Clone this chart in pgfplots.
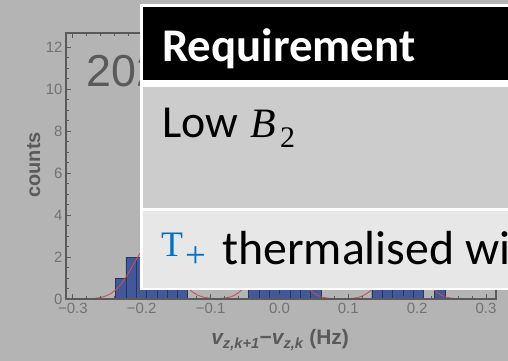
\documentclass[border=0pt]{standalone}
\usepackage{pgfplots}
\pgfplotsset{compat=1.18}
\usepackage{fontspec}
\setmainfont{Liberation Sans}
\newfontfamily\calibri{Carlito}
\newfontfamily\serif{Liberation Serif}
\definecolor{bgc}{HTML}{B4B4B4}
\definecolor{framec}{HTML}{5A5A5A}
\definecolor{tickc}{HTML}{727272}
\definecolor{barc}{HTML}{42589A}
\definecolor{fitc}{HTML}{C8504F}
\definecolor{rowa}{HTML}{CCCCCC}
\definecolor{rowb}{HTML}{E7E7E7}
\definecolor{tblue}{HTML}{0070C0}
\begin{document}
\begin{tikzpicture}
\useasboundingbox (0bp,0bp) rectangle (508bp,361bp);
\clip (0bp,0bp) rectangle (508bp,361bp);
\fill[bgc] (0bp,0bp) rectangle (508bp,361bp);
\node[anchor=base west, inner sep=0pt, text=framec, font=\fontsize{45}{50}\selectfont] at (86bp,274bp) {2022};
\begin{axis}[at={(66bp,62bp)}, anchor=south west, scale only axis,
  width=430bp, height=266bp,
  xmin=-0.31, xmax=0.3145, ymin=0, ymax=12.67,
  axis line style={framec, line width=1.5bp},
  xtick={-0.3,-0.2,-0.1,0,0.1,0.2,0.3},
  xticklabels={−0.3,−0.2,−0.1,0.0,0.1,0.2,0.3},
  ytick={0,2,4,6,8,10,12},
  minor x tick num=4, minor y tick num=3,
  tick style={framec, line width=0.8bp},
  major tick length=5bp, minor tick length=3bp,
  tick align=inside,
  ticklabel style={font=\fontsize{15}{17}\selectfont, text=tickc},
  xticklabel style={yshift=-1bp},
  /pgf/number format/assume math mode=true,
  axis on top,
  xlabel={{\bfseries\itshape v}\textsubscript{\bfseries\itshape z,k+1}{\bfseries −}{\bfseries\itshape v}\textsubscript{\bfseries\itshape z,k}{\bfseries\ (Hz)}},
  ylabel={\bfseries counts},
  every axis x label/.style={at={(rel axis cs:0.498,-0.154)}, anchor=center, text=framec, font=\fontsize{21}{23}\selectfont},
  every axis y label/.style={at={(rel axis cs:-0.075,0.504)}, anchor=center, rotate=90, text=framec, font=\fontsize{20}{22}\selectfont},
]
\addplot[ybar interval, fill=barc, draw=barc!60!black, line width=0.4bp] coordinates {
(-0.238,1) (-0.223,2) (-0.208,2) (-0.193,3) (-0.178,2) (-0.163,2) (-0.148,1) (-0.134,0)};
\addplot[ybar interval, fill=barc, draw=barc!60!black, line width=0.4bp] coordinates {
(-0.045,1) (-0.03,2) (-0.015,3) (0.0,4) (0.015,3) (0.03,2) (0.045,1) (0.06,0)};
\addplot[ybar interval, fill=barc, draw=barc!60!black, line width=0.4bp] coordinates {
(0.134,1) (0.149,2) (0.164,3) (0.179,2) (0.194,1) (0.209,0)};
\addplot[ybar interval, fill=barc, draw=barc!60!black, line width=0.4bp] coordinates {
(0.225,1) (0.24,0)};
\addplot[fitc, line width=0.9bp, smooth, mark=none] coordinates {
(-0.31,0) (-0.29,0.002) (-0.27,0.026) (-0.26,0.072) (-0.25,0.174) (-0.24,0.376)
(-0.23,0.713) (-0.22,1.195) (-0.21,1.765) (-0.20,2.30) (-0.19,2.64) (-0.18,2.67)
(-0.17,2.39) (-0.16,1.88) (-0.15,1.30) (-0.14,0.80) (-0.13,0.43) (-0.12,0.205)
(-0.11,0.087) (-0.10,0.035) (-0.09,0.021) (-0.08,0.04) (-0.07,0.112) (-0.06,0.285)
(-0.05,0.62) (-0.04,1.16) (-0.03,1.85) (-0.02,2.52) (-0.01,2.94) (0.00,2.94)
(0.01,2.52) (0.02,1.85) (0.03,1.16) (0.04,0.62) (0.05,0.285) (0.06,0.112)
(0.07,0.04) (0.08,0.012) (0.09,0.006) (0.10,0.014) (0.11,0.047) (0.12,0.137)
(0.13,0.338) (0.14,0.70) (0.15,1.24) (0.16,1.85) (0.17,2.34) (0.18,2.50)
(0.19,2.26) (0.20,1.73) (0.21,1.12) (0.22,0.62) (0.23,0.286) (0.24,0.113)
(0.25,0.037) (0.26,0.011) (0.27,0.003) (0.28,0) (0.3145,0)};
\end{axis}
% overlay table
\fill[white] (140bp,71bp) rectangle (520bp,357bp);
\fill[black] (143bp,281bp) rectangle (520bp,354bp);
\fill[rowa] (143bp,153bp) rectangle (520bp,274bp);
\fill[rowb] (143bp,73bp) rectangle (520bp,150bp);
\node[anchor=base west, inner sep=0pt, text=white, font=\calibri\bfseries\fontsize{47}{50}\selectfont] at (162bp,299bp) {Requirement};
\node[anchor=base west, inner sep=0pt, font=\calibri\fontsize{46}{50}\selectfont] at (162bp,223bp) {Low};
\node[anchor=base west, inner sep=0pt, font=\serif\itshape\fontsize{42}{46}\selectfont] at (250bp,223bp) {B};
\node[anchor=base west, inner sep=0pt, font=\serif\fontsize{30}{32}\selectfont] at (280bp,213bp) {2};
\node[anchor=base west, inner sep=0pt, text=tblue, font=\serif\fontsize{36}{40}\selectfont] at (161bp,104bp) {T};
\node[anchor=base west, inner sep=0pt, text=tblue, font=\serif\fontsize{37}{40}\selectfont] at (185bp,93bp) {+};
\node[anchor=base west, inner sep=0pt, font=\calibri\fontsize{48}{52}\selectfont] at (222bp,96bp) {thermalised with};
\end{tikzpicture}
\end{document}
